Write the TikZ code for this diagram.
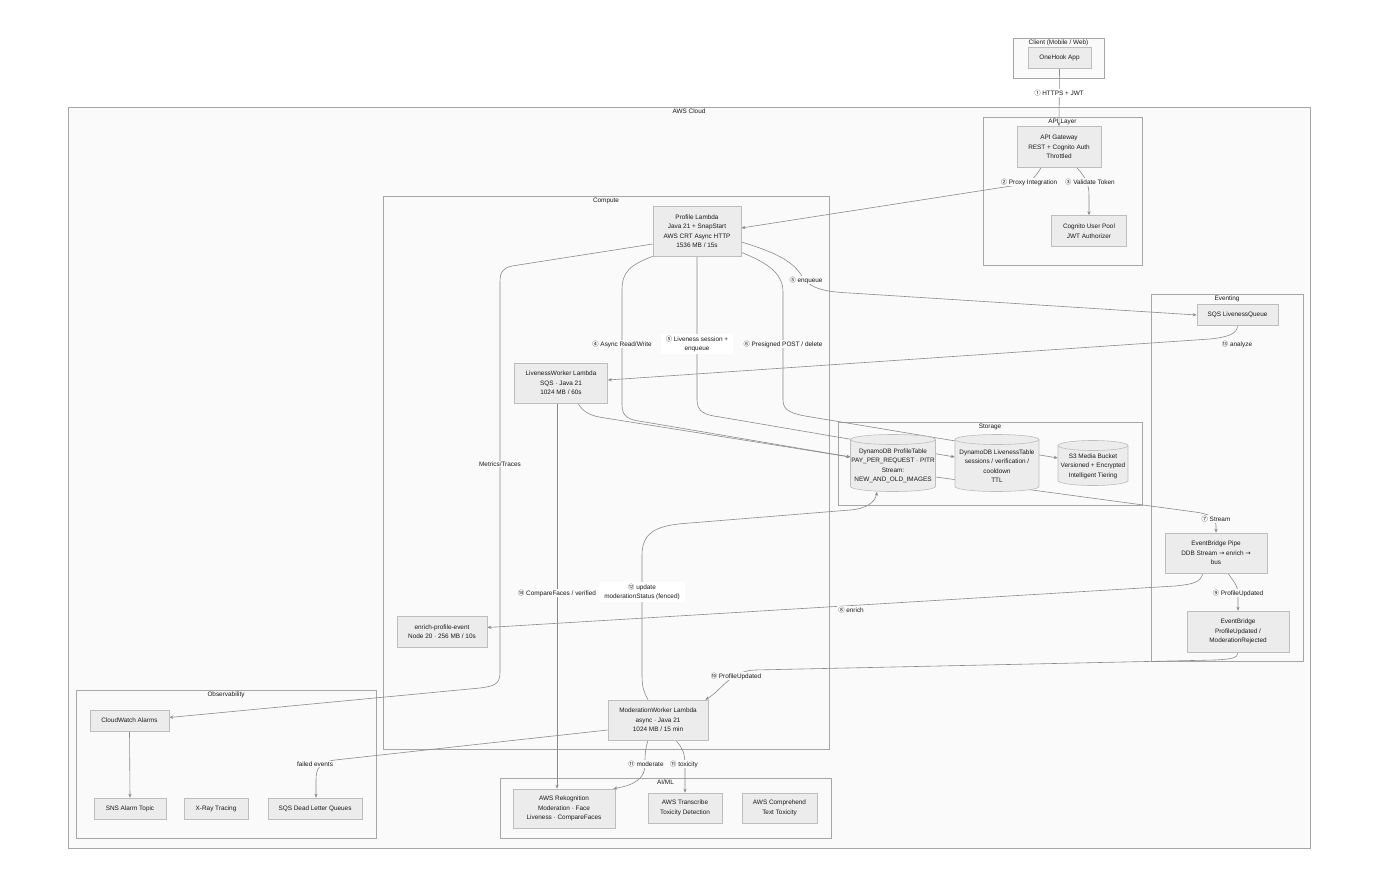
\documentclass[tikz,border=0pt]{standalone}
\usepackage{fontspec}
\setmainfont{Liberation Sans}
\newfontfamily\symf{DejaVu Sans}
\newfontfamily\cjkf{Noto Sans CJK SC}
\usetikzlibrary{arrows.meta}
\newcommand\cn[1]{{\cjkf\fontsize{6.3}{9.5}\selectfont #1}}
\definecolor{nodefill}{HTML}{ECECEC}
\definecolor{nodeline}{HTML}{BDBDBD}
\definecolor{clfill}{HTML}{FAFAFA}
\definecolor{clline}{HTML}{A6A6A6}
\definecolor{edgecol}{HTML}{8A8A8A}
\definecolor{txt}{HTML}{1A1A1A}
\pgfdeclarelayer{bg}
\pgfdeclarelayer{edges}
\pgfsetlayers{bg,edges,main}
\tikzset{
  every node/.style={font=\fontsize{6.4}{9.5}\selectfont, text=txt},
  box/.style={draw=nodeline, fill=nodefill, line width=0.6pt, align=center, inner sep=0pt},
  clus/.style={draw=clline, fill=clfill, line width=0.6pt},
  ctitle/.style={inner sep=0pt, anchor=north},
  edge/.style={draw=edgecol, line width=0.6pt, -{Stealth[length=4pt,width=3.2pt]}},
  lbl/.style={fill=clfill, inner sep=1pt, align=center},
  lblw/.style={fill=white, inner xsep=5pt, inner ysep=1.5pt, align=center},
  cylsty/.style={draw=nodeline, fill=nodefill, line width=0.6pt},
}
\newcommand\dbcyl[6]{%
  \pgfmathsetmacro\cxl{#2-#4/2}\pgfmathsetmacro\cxr{#2+#4/2}%
  \pgfmathsetmacro\cyt{#3-#5/2+5}\pgfmathsetmacro\cyb{#3+#5/2-5}%
  \pgfmathsetmacro\crx{#4/2}%
  \pgfmathsetmacro\cty{#3+3}%
  \filldraw[cylsty] (\cxl,\cyt) -- (\cxl,\cyb) arc[start angle=180,end angle=360,x radius={\crx pt},y radius=5pt] -- (\cxr,\cyt) arc[start angle=0,end angle=180,x radius={\crx pt},y radius=5pt] -- cycle;
  \draw[cylsty,fill=none] (\cxl,\cyt) arc[start angle=180,end angle=360,x radius={\crx pt},y radius=5pt];
  \node[minimum width=#4pt, minimum height=#5pt, inner sep=0pt] (#1) at (#2,#3) {};
  \node[align=center, inner sep=0pt] (#1t) at (#2,\cty) {#6};
}
\begin{document}
\begin{tikzpicture}[x=1pt,y=-1pt]
\useasboundingbox (0,0) rectangle (1400,881);
\begin{pgfonlayer}{bg}
\fill[white] (0,0) rectangle (1400,881);
\draw[clus] (1013,38) rectangle (1104,78);
\draw[clus] (68,107) rectangle (1310,848);
\draw[clus] (983,117) rectangle (1142,265);
\draw[clus] (383,196) rectangle (829,749);
\draw[clus] (1151,294) rectangle (1303,661);
\draw[clus] (838,422) rectangle (1142,505);
\draw[clus] (500,778) rectangle (831,838);
\draw[clus] (76,690) rectangle (376,838);
\end{pgfonlayer}
% cluster titles
\node[ctitle] (tclient) at (1058.5,40) {Client (Mobile / Web)};
\node[ctitle] (tcloud) at (689,109) {AWS Cloud};
\node[ctitle] (tapi) at (1062.5,119) {API Layer};
\node[ctitle] (tcomp) at (606,198) {Compute};
\node[ctitle] (tevt) at (1227,296) {Eventing};
\node[ctitle] (tsto) at (990,424) {Storage};
\node[ctitle] (taiml) at (665.5,780) {AI/ML};
\node[ctitle] (tobs) at (226,692) {Observability};
% nodes
\node[box, minimum width=63pt, minimum height=21pt] (app) at (1059.5,58) {OneHook App};
\node[box, minimum width=84pt, minimum height=41pt] (gw) at (1059,147) {API Gateway\\REST + Cognito Auth\\Throttled};
\node[box, minimum width=75pt, minimum height=31pt] (cog) at (1089,231) {Cognito User Pool\\JWT Authorizer};
\node[box, minimum width=88pt, minimum height=50pt] (profile) at (697,231) {Profile Lambda\\Java 21 + SnapStart\\AWS CRT Async HTTP\\1536 MB / 15s};
\node[box, minimum width=81pt, minimum height=21pt] (sqs) at (1237.5,315) {SQS LivenessQueue};
\node[box, minimum width=93pt, minimum height=40pt] (lw) at (561,383) {LivenessWorker Lambda\\SQS · Java 21\\1024 MB / 60s};
\dbcyl{ddbp}{893}{463}{85}{57}{DynamoDB ProfileTable\\PAY\_PER\_REQUEST · PITR\\Stream:\\NEW\_AND\_OLD\_IMAGES}
\dbcyl{ddbl}{997}{463}{84}{57}{DynamoDB LivenessTable\\sessions / verification /\\cooldown\\TTL}
\dbcyl{s3}{1093}{463}{70}{45}{S3 Media Bucket\\Versioned + Encrypted\\Intelligent Tiering}
\node[box, minimum width=102pt, minimum height=40pt] (pipe) at (1216,553) {EventBridge Pipe\\DDB Stream {\symf →} enrich {\symf →}\\bus};
\node[box, minimum width=102pt, minimum height=41pt] (bus) at (1238,631.5) {EventBridge\\ProfileUpdated /\\ModerationRejected};
\node[box, minimum width=90pt, minimum height=31pt] (enrich) at (442,631.5) {enrich-profile-event\\Node 20 · 256 MB / 10s};
\node[box, minimum width=100pt, minimum height=40pt] (mw) at (658,720) {ModerationWorker Lambda\\async · Java 21\\1024 MB / 15 min};
\node[box, minimum width=102pt, minimum height=39pt] (rek) at (564,808.5) {AWS Rekognition\\Moderation · Face\\Liveness · CompareFaces};
\node[box, minimum width=74pt, minimum height=30pt] (tr) at (685,808) {AWS Transcribe\\Toxicity Detection};
\node[box, minimum width=75pt, minimum height=30pt] (comp) at (779.5,808) {AWS Comprehend\\Text Toxicity};
\node[box, minimum width=79pt, minimum height=21pt] (cw) at (129.5,720.5) {CloudWatch Alarms};
\node[box, minimum width=72pt, minimum height=21pt] (sns) at (130,808.5) {SNS Alarm Topic};
\node[box, minimum width=64pt, minimum height=21pt] (xray) at (216,808.5) {X-Ray Tracing};
\node[box, minimum width=94pt, minimum height=21pt] (dlq) at (315,808.5) {SQS Dead Letter Queues};
% edges
\begin{pgfonlayer}{edges}
\draw[edge] (app.south) -- (gw.north);
\draw[edge] ([xshift=-18pt]gw.south) .. controls (1036,176) and (1032,181) .. (1024,184) -- ([yshift=3pt]profile.east);
\draw[edge] ([xshift=18pt]gw.south) .. controls (1086,178) and (1089,184) .. (1089,196) -- (cog.north);
\draw[edge] ([yshift=-13pt]profile.west) -- (512,266) .. controls (503,268) and (500,272) .. (500,282) -- (500,672) .. controls (500,684) and (495,686) .. (480,688) -- ([yshift=3pt]cw.east);
\draw[edge] (profile.south west) .. controls (630,265) and (622,272) .. (622,290) -- (622,405) .. controls (622,418) and (630,420) .. (645,422) -- ([yshift=6pt]ddbp.west);
\draw[edge] (profile.south) -- (697,400) .. controls (697,412) and (705,415) .. (720,417) -- ([yshift=6pt]ddbl.west);
\draw[edge] ([yshift=4pt]profile.south east) .. controls (765,262) and (783,272) .. (783,292) -- (783,400) .. controls (783,410) and (790,413) .. (805,416) -- ([yshift=5pt]s3.west);
\draw[edge] ([yshift=-11pt]profile.east) .. controls (775,252) and (795,262) .. (803,278) .. controls (812,290) and (830,292) .. (850,293) -- (sqs.west);
\draw[edge] (sqs.south) .. controls (1237,334) and (1228,337) .. (1210,339) -- ([yshift=3pt]lw.east);
\draw[edge] ([xshift=17pt]lw.south) .. controls (583,412) and (590,416) .. (605,418) -- ([yshift=6pt]ddbp.west);
\draw[edge] ([xshift=-4pt]lw.south) -- ([xshift=-7pt]rek.north);
\draw[edge] ([yshift=-14pt]ddbp.east) -- (1195,512) .. controls (1210,514) and (1216,518) .. (1216,525) -- (pipe.north);
\draw[edge] ([xshift=12pt]pipe.south) .. controls (1232,580) and (1238,584) .. (1238,595) -- (bus.north);
\draw[edge] ([xshift=-13pt]pipe.south) .. controls (1200,582) and (1195,584) .. (1175,586) -- ([yshift=4pt]enrich.east);
\draw[edge] (bus.south) .. controls (1238,658) and (1232,659) .. (1215,660) -- (755,670) .. controls (730,671) and (722,690) .. ([xshift=-3pt]mw.north east);
\draw[edge] ([xshift=-10pt]mw.north) .. controls (644,692) and (642,688) .. (642,675) -- (642,555) .. controls (642,530) and (660,525) .. (690,523) -- (850,510) .. controls (865,509) and (875,503) .. ([xshift=-16pt]ddbp.south);
\draw[edge] ([xshift=-10pt]mw.south) .. controls (645,750) and (645,755) .. (645,765) .. controls (645,778) and (635,785) .. ([xshift=-2pt]rek.north east);
\draw[edge] ([xshift=18pt]mw.south) .. controls (682,748) and (685,752) .. (685,765) -- (tr.north);
\draw[edge] ([yshift=-10pt]mw.west) -- (335,760) .. controls (320,762) and (316,768) .. (316,780) -- ([xshift=1pt]dlq.north);
\draw[edge] (cw.south) -- (sns.north);
\end{pgfonlayer}
% edge labels
\node[lbl, fill=white] (l1) at (1059,93) {\cn{①} HTTPS + JWT};
\node[lbl] (l2) at (1029,182) {\cn{②} Proxy Integration};
\node[lbl] (l3) at (1090,182) {\cn{③} Validate Token};
\node[lbl] (l4) at (500,464) {Metrics/Traces};
\node[lbl] (l5) at (622,344) {\cn{④} Async Read/Write};
\node[lblw] (l6) at (697,344) {\cn{⑤} Liveness session +\\enqueue};
\node[lbl] (l7) at (783,344) {\cn{⑥} Presigned POST / delete};
\node[lbl] (l8) at (806,280) {\cn{⑤} enqueue};
\node[lbl] (l9) at (1237,344) {\cn{⑬} analyze};
\node[lbl] (l10) at (557,593) {\cn{⑭} CompareFaces / verified};
\node[lblw] (l11) at (642,592) {\cn{⑫} update\\moderationStatus (fenced)};
\node[lbl] (l12) at (851,610) {\cn{⑧} enrich};
\node[lbl] (l13) at (736,676) {\cn{⑩} ProfileUpdated};
\node[lbl] (l14) at (646,764) {\cn{⑪} moderate};
\node[lbl] (l15) at (684,764) {\cn{⑪} toxicity};
\node[lbl] (l16) at (315,764) {failed events};
\node[lbl] (l17) at (1216,519) {\cn{⑦} Stream};
\node[lbl] (l18) at (1238,593) {\cn{⑨} ProfileUpdated};
\end{tikzpicture}
\end{document}
